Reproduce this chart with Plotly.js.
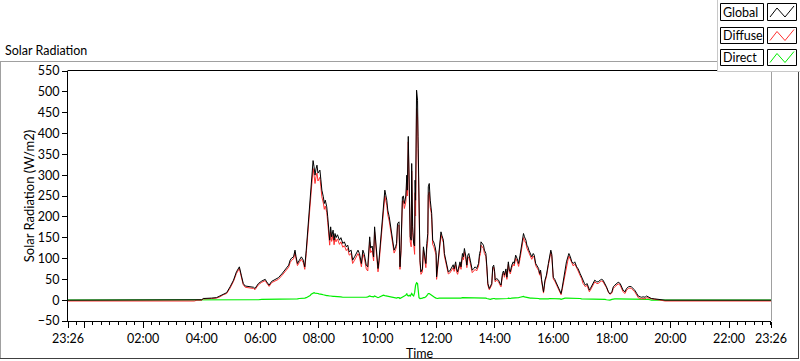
<!DOCTYPE html>
<html><head><meta charset="utf-8">
<script src="https://cdn.plot.ly/plotly-3.0.1.min.js"></script>
<style>html,body{margin:0;padding:0;background:#fff;overflow:hidden}#chart{width:800px;height:361px}</style>
</head><body><div id="chart"></div>
<script>
// ---- data (clock time, W/m2) ----
const times = [
 "23:26","03:45","03:50","04:00","04:03","04:10","04:20","04:30","04:37","04:44","04:51","04:58",
 "05:05","05:11","05:17","05:21","05:25","05:29","05:39","05:46","05:49","05:56",
 "06:03","06:10","06:13","06:18","06:23","06:30","06:37","06:44","06:50","06:58",
 "07:01","07:04","07:08","07:11","07:13","07:16","07:20","07:24","07:28","07:31","07:34","07:36","07:39","07:42","07:44","07:46","07:48","07:50","07:52","07:54","07:56","07:58",
 "08:00","08:02","08:04","08:06","08:09","08:11","08:13","08:16","08:18","08:20","08:22","08:24","08:26","08:29","08:31","08:33","08:35","08:38","08:42","08:45","08:49","08:52","08:56","08:59",
 "09:02","09:06","09:09","09:13","09:16","09:20","09:23","09:27","09:30","09:33","09:37","09:40","09:44","09:46","09:49","09:52","09:54","09:56","09:59",
 "10:01","10:03","10:06","10:08","10:10","10:12","10:15","10:19","10:21","10:24","10:26","10:28","10:30","10:32","10:34","10:37","10:39","10:41","10:44","10:46","10:48","10:51","10:53","10:55","10:58",
 "11:00","11:01","11:03","11:05","11:07","11:09","11:10","11:12","11:14","11:16","11:17","11:18","11:20","11:22","11:23","11:24","11:25","11:27","11:29","11:32","11:34","11:36","11:39","11:41","11:43","11:44","11:46","11:48","11:50","11:51","11:53","11:55","11:58",
 "12:00","12:01","12:03","12:06","12:08","12:10","12:12","12:15","12:17","12:20","12:22","12:25","12:28","12:32","12:35","12:37","12:40","12:42","12:44","12:47","12:49","12:51","12:54","12:56","12:58",
 "13:01","13:03","13:05","13:07","13:10","13:12","13:14","13:17","13:20","13:23","13:27","13:29","13:31","13:32","13:35","13:37","13:39","13:42","13:44","13:46","13:49","13:51","13:54","13:56","13:58",
 "14:00","14:01","14:04","14:08","14:11","14:13","14:16","14:18","14:20","14:23","14:25","14:27","14:28","14:30","14:32","14:35","14:38","14:40","14:43","14:46","14:49","14:52","14:54","14:57","14:59",
 "15:01","15:04","15:06","15:08","15:10","15:13","15:16","15:19","15:21","15:24","15:27","15:30","15:32","15:34","15:36","15:38","15:40","15:43","15:46","15:50","15:53","15:55","15:57","15:58",
 "16:00","16:03","16:07","16:10","16:14","16:16","16:18","16:21","16:24","16:27","16:31","16:32","16:35","16:38","16:41","16:44","16:48","16:51","16:55","16:58",
 "17:01","17:04","17:06","17:09","17:12","17:14","17:16","17:19","17:22","17:25","17:29","17:32","17:36","17:39","17:42","17:46","17:49","17:53","17:56",
 "18:00","18:03","18:06","18:10","18:13","18:17","18:20","18:23","18:27","18:30","18:34","18:37","18:40","18:44","18:47","18:51","18:54","18:58",
 "19:01","19:04","19:08","19:11","19:15","19:18","19:21","19:28","19:35","19:42","19:49","23:26"
];
const globalRad = [
 0,0,0,1,4,5,5,6,10,15,18,32,
 48,68,80,60,40,34,32,31,28,40,
 46,50,44,36,45,50,54,63,72,84,
 96,101,104,120,105,88,96,104,96,80,120,152,192,245,289,312,335,320,300,315,324,305,
 308,312,289,264,248,232,240,224,200,168,144,176,152,168,144,160,150,157,144,150,136,140,128,132,
 116,120,96,104,112,120,112,88,120,110,84,80,152,125,130,104,176,144,104,
 76,96,144,176,208,224,264,240,216,200,184,176,160,144,120,128,136,184,188,80,120,248,250,232,250,
 300,264,393,288,152,144,328,176,136,130,288,240,504,480,392,288,192,96,68,75,128,115,88,136,160,272,280,240,225,208,144,140,128,
 115,56,80,128,152,164,155,144,112,96,92,68,70,80,85,75,92,75,68,82,92,80,112,104,124,
 104,84,108,112,96,84,72,76,80,76,88,112,120,140,136,132,120,112,80,40,28,32,40,80,84,
 68,48,52,48,40,36,64,70,60,75,55,80,92,72,68,84,92,88,108,100,88,108,124,148,160,
 152,144,132,128,120,112,104,112,108,88,80,76,64,72,50,28,20,48,60,88,104,120,110,85,
 55,50,40,32,24,16,28,48,72,92,108,112,104,92,88,92,80,75,64,56,
 44,40,36,40,32,24,28,36,40,48,44,44,48,50,48,40,32,20,15,
 20,32,36,40,43,40,32,24,20,28,32,33,32,28,24,16,10,8,
 7,8,7,10,8,5,4,3,2,1,0,0
];
const diffuseRad = [
 -2,-2,0,0,3,4,4,5,8,13,16,29,
 45,64,76,56,37,31,29,28,25,37,
 43,47,41,33,42,47,50,59,68,79,
 90,96,99,114,100,83,91,98,90,74,112,143,181,232,272,294,316,300,280,296,305,286,
 290,295,272,248,233,218,226,211,187,156,132,164,141,157,133,149,140,147,134,140,127,131,119,124,
 108,112,88,96,104,112,104,80,111,101,75,70,140,114,119,94,164,133,95,
 68,87,133,164,194,210,250,228,205,190,175,168,152,137,113,121,129,176,180,74,113,238,239,220,236,
 281,250,380,274,140,128,310,162,124,110,258,202,460,440,364,272,184,90,62,68,120,107,78,124,144,252,260,222,210,194,133,130,120,
 108,50,74,121,145,157,148,138,106,90,87,63,65,74,78,69,85,68,62,76,85,74,104,97,116,
 97,78,100,104,89,78,66,70,74,70,82,104,112,132,128,124,112,105,75,36,25,29,36,75,79,
 63,44,48,44,36,32,59,65,55,70,50,75,86,67,63,78,86,82,101,93,81,100,115,138,150,
 143,136,125,121,114,106,98,106,102,83,75,71,60,68,46,25,17,44,56,84,99,115,105,81,
 51,46,36,28,20,13,24,43,66,86,102,106,98,86,82,87,75,70,59,52,
 40,36,32,36,28,20,24,32,36,44,40,40,44,46,44,37,30,19,14,
 17,28,32,36,39,36,28,20,16,24,28,29,28,24,20,12,6,4,
 3,4,3,6,5,3,3,2,1,0,-2,-2
];
const directRad = [
 0,0,0,0,0,1,1,1,1,1,1,1,
 1,1,1,1,1,1,1,1,1,1,
 2,2,2,2,2,2,2,2,2,2,
 3,3,3,3,3,3,4,4,4,5,6,7,9,11,14,16,17,18,17,17,16,16,
 15,15,14,14,13,12,12,11,11,10,10,10,9,9,9,9,8,8,8,8,7,7,7,6,
 6,6,6,6,6,6,6,6,7,7,7,8,10,9,9,8,10,9,7,
 6,7,9,10,12,12,11,10,9,8,7,6,6,5,5,5,5,6,6,4,5,8,9,10,12,
 16,12,10,12,10,14,16,12,10,18,28,36,42,40,28,15,6,4,4,5,6,6,8,10,14,16,16,14,12,11,9,8,6,
 5,4,4,5,5,5,5,4,4,4,4,4,4,4,5,5,5,5,5,5,5,5,6,6,6,
 6,5,6,6,5,5,5,5,5,5,5,6,6,6,6,6,6,5,4,3,2,2,3,4,4,
 4,3,3,3,3,3,4,4,4,4,4,4,5,4,4,5,5,5,6,6,6,7,8,9,9,
 8,7,6,6,5,5,5,5,5,4,4,4,3,3,3,2,2,3,3,3,4,4,4,3,
 3,3,3,3,3,2,3,4,5,5,5,5,5,5,5,4,4,4,4,3,
 3,3,3,3,3,3,3,3,3,3,3,3,3,3,3,2,1,0,0,
 2,3,3,3,3,3,3,3,3,3,3,3,3,3,3,3,3,3,
 3,3,3,3,2,1,0,0,0,0,0,0
];
const seriesNames = ["Global","Diffuse","Direct"];
const tickClock  = ["23:26","00:00","02:00","04:00","06:00","08:00","10:00","12:00","14:00","16:00","18:00","20:00","22:00","23:26"];
const tickLabels = ["23:26","","02:00","04:00","06:00","08:00","10:00","12:00","14:00","16:00","18:00","20:00","22:00","23:26"];

// ---- helpers ----
const toDate = (t,i) => (i===0 ? "2024-05-01 " : "2024-05-02 ") + t;
const xs = times.map(toDate);
const L=68, R=771, T=71, B=321;
const fx = x => (x-L)/(R-L);
const fy = y => (B-y)/(B-T);
const FONT = "Lato, Noto Sans, sans-serif";
const colors = {Global:"#000000", Diffuse:"#ff3030", Direct:"#00ee00"};

const traces = [
 {x:xs, y:directRad, name:"Direct", type:"scatter", mode:"lines", line:{color:colors.Direct,width:1.2}},
 {x:xs, y:diffuseRad, name:"Diffuse", type:"scatter", mode:"lines", line:{color:colors.Diffuse,width:1}},
 {x:xs, y:globalRad, name:"Global", type:"scatter", mode:"lines", line:{color:colors.Global,width:1}}
];

function line(x0,y0,x1,y1,color,w){
  return {type:"line",xref:"paper",yref:"paper",x0:fx(x0),y0:fy(y0),x1:fx(x1),y1:fy(y1),line:{color:color,width:w||1},layer:"above"};
}
function rect(x0,y0,x1,y1,lc,fill){
  return {type:"rect",xref:"paper",yref:"paper",x0:fx(x0),y0:fy(y0),x1:fx(x1),y1:fy(y1),line:{color:lc,width:1},fillcolor:fill,layer:"above"};
}
const shapes = [
  // outer panel
  line(0,61.5,718,61.5,"#a0a0a0"),
  line(0.5,61,0.5,359,"#a0a0a0"),
  line(0,358.5,799,358.5,"#404040"),
  line(798.5,72,798.5,359,"#404040"),
  // plot frame top / right
  line(67.5,70.5,771.5,70.5,"#000000"),
  line(771.5,70.5,771.5,321,"#a0a0a0"),
  // legend panel
  rect(717.5,-1,801,71.5,"#c8c8c8","#ffffff")
];
const annotations = [
  {text:"Solar Radiation",xref:"paper",yref:"paper",x:fx(3),y:fy(51),xanchor:"left",yanchor:"middle",showarrow:false,font:{family:FONT,size:12.5,color:"#000"}}
];
const rowTop = [3.5,27.5,49.5], rowBot=[20.5,43.5,65.5];
seriesNames.forEach((n,i)=>{
  const t=rowTop[i], b=rowBot[i];
  shapes.push(rect(720.5,t,763.5,b,"#000000","#ffffff"));
  shapes.push(rect(767.5,t,796.5,b,"#000000","#ffffff"));
  const m=(t+b)/2;
  const pts=[[770,m+5],[777,m-4],[785,m+5],[794,m-6]];
  let p="";
  pts.forEach((q,k)=>{p+=(k?"L":"M")+fx(q[0])+","+fy(q[1]);});
  shapes.push({type:"path",xref:"paper",yref:"paper",path:p,line:{color:colors[n],width:1},layer:"above"});
  annotations.push({text:n,xref:"paper",yref:"paper",x:fx(721),y:fy(m),xanchor:"left",yanchor:"middle",showarrow:false,font:{family:FONT,size:12.5,color:"#000"}});
});

const layout = {
  width:800, height:361,
  margin:{l:L, r:800-R, t:T, b:361-B, pad:0},
  paper_bgcolor:"#ffffff", plot_bgcolor:"#ffffff",
  showlegend:false,
  font:{family:FONT,size:12,color:"#000"},
  xaxis:{
    type:"date",
    range:[toDate("23:26",0), toDate("23:26",1)],
    tickmode:"array", tickvals:tickClock.map((t,i)=>toDate(t, i===0?0:1)), ticktext:tickLabels,
    ticks:"outside", ticklen:6, tickcolor:"#000", tickwidth:1,
    minor:{ticks:"outside", ticklen:3, tickcolor:"#000", tick0:"2024-05-02 00:00", dtick:7200000/7},
    showline:true, linecolor:"#000", linewidth:1, showgrid:false, zeroline:false,
    tickfont:{family:FONT,size:12.5,color:"#000"},
    title:{text:"Time", font:{family:FONT,size:12.5,color:"#000"}, standoff:2}
  },
  yaxis:{
    range:[-50,550], dtick:50, tick0:0,
    ticks:"outside", ticklen:5, tickcolor:"#000", tickwidth:1,
    showline:true, linecolor:"#000", linewidth:1, showgrid:false, zeroline:false,
    tickfont:{family:FONT,size:12.5,color:"#000"},
    title:{text:"Solar Radiation (W/m2)", font:{family:FONT,size:13,color:"#000"}, standoff:0}
  },
  shapes:shapes,
  annotations:annotations
};
Plotly.newPlot("chart", traces, layout, {displayModeBar:false, staticPlot:true});
</script>
</body></html>
